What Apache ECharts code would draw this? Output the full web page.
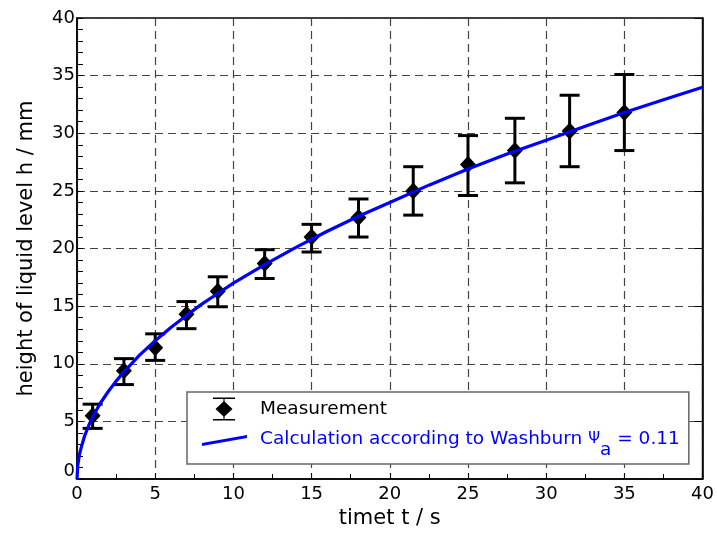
<!DOCTYPE html>
<html>
<head>
<meta charset="utf-8">
<script src="https://cdn.jsdelivr.net/npm/echarts@6/dist/echarts.min.js"></script>
<style>
  html, body { margin: 0; padding: 0; background: #fff; }
  #chart { width: 717px; height: 534px; }
</style>
</head>
<body>
<div id="chart"></div>
<script>
// Measured rise of the liquid level (diamonds with error bars)
const timeS    = [1, 3, 5, 7, 9, 12, 15, 18, 21.5, 25, 28, 31.5, 35];
const heightMm = [5.5, 9.4, 11.4, 14.3, 16.3, 18.7, 21.0, 22.7, 25.0, 27.3, 28.5, 30.2, 31.8];
const errLow   = [4.4, 8.2, 10.3, 13.05, 14.95, 17.4, 19.7, 21.0, 22.9, 24.6, 25.7, 27.1, 28.5];
const errHigh  = [6.5, 10.45, 12.6, 15.4, 17.55, 19.9, 22.1, 24.3, 27.1, 29.8, 31.3, 33.3, 35.1];

// Washburn calculation curve
const washT = [0, 0.05, 0.15, 0.3, 0.5, 0.75, 1, 1.5, 2, 2.5, 3, 4, 5, 6, 7, 8, 9, 10, 11, 12, 14, 16, 18, 20, 22.5, 25, 27.5, 30, 32.5, 35, 37.5, 40];
const washH = [0, 1.2, 2.1, 2.9, 3.8, 4.65, 5.4, 6.6, 7.6, 8.5, 9.3, 10.75, 12.0, 13.15, 14.2, 15.2, 16.1, 17.0, 17.8, 18.6, 20.1, 21.5, 22.8, 24.0, 25.5, 26.9, 28.2, 29.4, 30.6, 31.8, 32.9, 34.0];

// Axis ticks
const xTicks = [0, 5, 10, 15, 20, 25, 30, 35, 40];
const yTicks = [0, 5, 10, 15, 20, 25, 30, 35, 40];

const FONT = 'DejaVu Sans, Verdana, sans-serif';

const measData = timeS.map((t, i) => [t, heightMm[i]]);
const errData  = timeS.map((t, i) => [t, errLow[i], errHigh[i]]);
const washData = washT.map((t, i) => [t, washH[i]]);

// legend icons (bounds fixed by the leading moveTo points)
const measIcon = 'path://M0 0M54 24' +
  'M12 0.5L34 0.5L34 2L12 2Z' +
  'M12 22L34 22L34 23.5L12 23.5Z' +
  'M22.4 2L23.6 2L23.6 22L22.4 22Z' +
  'M23 4L31.5 12L23 20L14.5 12Z';
const lineIcon = 'path://M0 0M54 24' +
  'M1 15.5L46 7.5L46 10.5L1 18.5Z';

const chart = echarts.init(document.getElementById('chart'), null, { renderer: 'canvas' });

chart.setOption({
  animation: false,
  backgroundColor: '#fff',
  textStyle: { fontFamily: FONT },
  grid: {
    left: 77, right: 11, top: 18, bottom: 53,
    show: true, borderColor: '#000', borderWidth: 1.5, backgroundColor: 'transparent'
  },
  legend: {
    orient: 'vertical',
    left: 187, top: 392,
    padding: [5, 9, 4, 14],
    itemWidth: 54, itemHeight: 24, itemGap: 6.5,
    backgroundColor: '#fff',
    borderColor: '#666', borderWidth: 1.5,
    textStyle: { fontFamily: FONT, fontSize: 18.5, color: '#000' },
    formatter: function (name) {
      if (name === 'Washburn') {
        return 'Calculation according to Washburn {psi|\u03A8}{sub|a} = 0.11';
      }
      return name;
    },
    data: [
      { name: 'Measurement', icon: measIcon, itemStyle: { color: '#000' } },
      {
        name: 'Washburn', icon: lineIcon, itemStyle: { color: '#0000ff' },
        textStyle: {
          color: '#0000ff', fontSize: 18.5, fontFamily: FONT,
          rich: {
            psi: { color: '#0000ff', fontSize: 15, fontFamily: FONT },
            sub: { color: '#0000ff', fontSize: 18.5, fontFamily: FONT, padding: [22, 0, 0, 0] }
          }
        }
      }
    ]
  },
  xAxis: [{
    type: 'value', min: 0, max: 40, interval: 5,
    name: 'timet t / s', nameLocation: 'middle', nameGap: 28,
    nameTextStyle: { fontFamily: FONT, fontSize: 21, color: '#000' },
    axisLine: { show: true, onZero: false, lineStyle: { color: '#000', width: 1.5 } },
    axisTick: { show: true, inside: true, length: 6, lineStyle: { color: '#000', width: 1 } },
    minorTick: { show: true, splitNumber: 2, length: 5, lineStyle: { color: '#000', width: 1 } },
    axisLabel: {
      fontFamily: FONT, fontSize: 18, color: '#000', margin: 6,
      customValues: xTicks
    },
    splitLine: { show: true, lineStyle: { color: '#444', width: 1.2, type: [8, 5] } }
  }],
  yAxis: [{
    type: 'value', min: 0, max: 40, interval: 5,
    name: 'height of liquid level h / mm', nameLocation: 'middle', nameGap: 40,
    nameTextStyle: { fontFamily: FONT, fontSize: 21, color: '#000' },
    axisLine: { show: true, onZero: false, lineStyle: { color: '#000', width: 1.5 } },
    axisTick: { show: true, inside: true, length: 6, lineStyle: { color: '#000', width: 1 } },
    minorTick: { show: true, splitNumber: 5, length: 6, lineStyle: { color: '#000', width: 1 } },
    axisLabel: {
      fontFamily: FONT, fontSize: 18, color: '#000', margin: 2,
      customValues: yTicks,
      // the bottom label sits just above the corner
      formatter: function (v) { return v === 0 ? '{low|0}' : String(v); },
      rich: { low: { fontFamily: FONT, fontSize: 18, color: '#000', padding: [0, 0, 15, 0] } }
    },
    splitLine: { show: true, lineStyle: { color: '#444', width: 1.2, type: [8, 5] } }
  }, {
    type: 'value', min: 0, max: 40, interval: 5, position: 'right',
    axisLine: { show: true, onZero: false, lineStyle: { color: '#000', width: 1.5 } },
    axisTick: { show: true, inside: true, length: 8, lineStyle: { color: '#000', width: 1 } },
    axisLabel: { show: false },
    splitLine: { show: false }
  }],
  series: [
    {
      name: 'errorbars',
      type: 'custom',
      z: 2,
      data: errData,
      encode: { x: 0, y: [1, 2] },
      renderItem: function (params, api) {
        const x = api.value(0);
        const lo = api.coord([x, api.value(1)]);
        const hi = api.coord([x, api.value(2)]);
        const half = 10;
        const style = { stroke: '#000', lineWidth: 3 };
        return {
          type: 'group',
          children: [
            { type: 'line', shape: { x1: lo[0], y1: lo[1], x2: hi[0], y2: hi[1] }, style: style },
            { type: 'line', shape: { x1: lo[0] - half, y1: lo[1], x2: lo[0] + half, y2: lo[1] }, style: style },
            { type: 'line', shape: { x1: hi[0] - half, y1: hi[1], x2: hi[0] + half, y2: hi[1] }, style: style }
          ]
        };
      }
    },
    {
      name: 'Measurement',
      type: 'scatter',
      z: 3,
      symbol: 'diamond',
      symbolSize: [16, 17],
      itemStyle: { color: '#000', opacity: 1 },
      data: measData
    },
    {
      name: 'Washburn',
      type: 'line',
      z: 4,
      showSymbol: false,
      smooth: false,
      lineStyle: { color: '#0000ff', width: 3.2 },
      itemStyle: { color: '#0000ff' },
      data: washData
    }
  ]
});
</script>
</body>
</html>
